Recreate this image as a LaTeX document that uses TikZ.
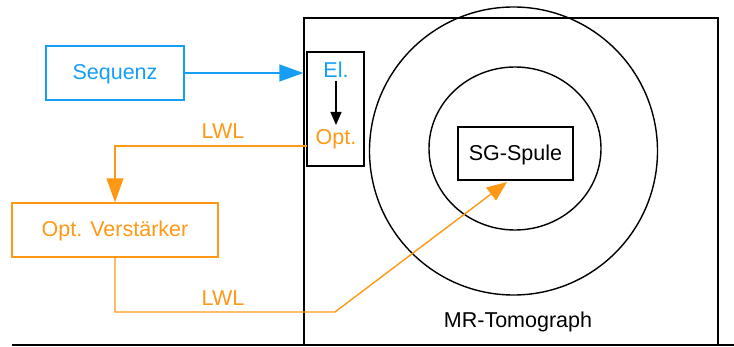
\documentclass[tikz,border=0pt]{standalone}
\usepackage{fontspec}
\setmainfont{Liberation Sans}
\usetikzlibrary{arrows.meta,shapes.geometric}
\definecolor{cblue}{RGB}{22,158,245}
\definecolor{corange}{RGB}{255,152,20}
\begin{document}
\begin{tikzpicture}[x=1pt,y=-1pt,
  every node/.style={font=\fontsize{21.5pt}{25pt}\selectfont, inner sep=0pt},
  box/.style={draw, line width=1.4pt, text height=15pt, text depth=1pt},
  blk/.style={line width=1.4pt, draw=black},
  fiber/.style={draw=corange, line width=1.4pt},
  bigtip/.style={-{Triangle[length=24pt,width=17pt]}},
  smalltip/.style={-{Triangle[length=13pt,width=11pt]}}]
\useasboundingbox (0,0) rectangle (734,347);
% MR-Tomograph housing
\node[blk, draw, minimum width=414pt, minimum height=327pt] (mr) at (511,181.5) {};
\draw[blk] (12,345) coordinate (gl) -- (734,345) coordinate (gr);
\node (outer) [blk, draw, circle, minimum size=288pt] at (513.5,151) {};
\node (inner) [blk, draw, ellipse, minimum width=172pt, minimum height=163pt] at (515,148.5) {};
\node[anchor=base] (mrlabel) at (518,328) {MR-Tomograph};
\node[box, minimum width=115pt, minimum height=53pt] (sg) at (515.5,153.5) {SG-Spule};
% El./Opt. converter
\node[blk, draw, minimum width=57pt, minimum height=114pt] (conv) at (335.5,109) {};
\node[anchor=base, text=cblue] (el) at (336,78) {El.};
\node[anchor=base, text=corange] (opt) at (336,145) {Opt.};
\draw[line width=1.4pt, smalltip] (el.south) ++(0,3) coordinate (ea) -- (ea |- 0,125) coordinate (eb);
% Sequenz
\node[box, draw=cblue, text=cblue, minimum width=138pt, minimum height=54pt] (seq) at (115,73) {Sequenz};
\draw[draw=cblue, line width=1.4pt, bigtip] (seq.east) -- (seq.east -| mr.west);
% Optical amplifier
\node[box, draw=corange, text=corange, minimum width=206pt, minimum height=54pt] (amp) at (115,230) {Opt. Verstärker};
\coordinate (lwlstart) at (307,146);
\draw[fiber, bigtip] (lwlstart) -| (amp.north);
\node[anchor=base, text=corange] (lwl1) at (223,139) {LWL};
\coordinate (bend) at (335,312);
\coordinate (sgin) at (507,182);
\draw[fiber, -{Triangle[length=20pt,width=16pt]}] (amp.south) |- (bend) -- (sgin);
\node[anchor=base, text=corange] (lwl2) at (223,305.5) {LWL};
\end{tikzpicture}
\end{document}
